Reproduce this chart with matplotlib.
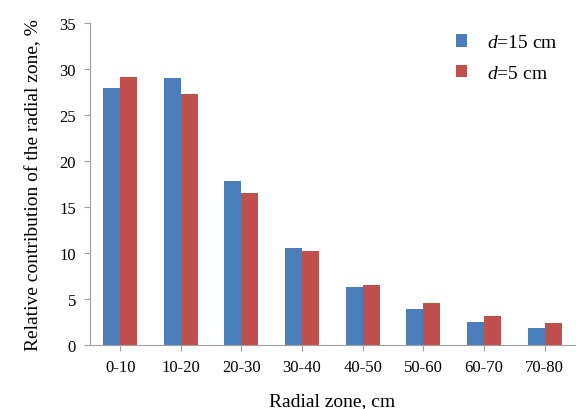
import numpy as np
import matplotlib
matplotlib.use('Agg')
import matplotlib.pyplot as plt

plt.rcParams['font.family'] = 'Liberation Serif'
plt.rcParams['mathtext.fontset'] = 'custom'
plt.rcParams['mathtext.it'] = 'Liberation Serif:italic'
plt.rcParams['mathtext.rm'] = 'Liberation Serif'

zones = ['0-10', '10-20', '20-30', '30-40', '40-50', '50-60', '60-70', '70-80']
d15 = [27.9, 29.05, 17.8, 10.5, 6.3, 3.9, 2.5, 1.8]
d5 = [29.2, 27.3, 16.5, 10.2, 6.55, 4.6, 3.2, 2.4]

fig = plt.figure(figsize=(5.76, 4.10), dpi=100)
ax = fig.add_axes([0.156, 0.156, 0.842, 0.785])

x = np.arange(len(zones))
w = 0.28
ax.bar(x - w/2, d15, w, color='#4a7ebb', label='$d$=15 cm')
ax.bar(x + w/2, d5, w, color='#c0504d', label='$d$=5 cm')

ax.set_xlim(-0.5, len(zones) - 0.5)
ax.set_ylim(0, 35)
ax.set_yticks(range(0, 36, 5))
ax.set_xticks(x)
ax.set_xticklabels(zones)

for s in ['top', 'right']:
    ax.spines[s].set_visible(False)
for s in ['left', 'bottom']:
    ax.spines[s].set_color('#a0a0a0')
ax.tick_params(colors='#a0a0a0', labelcolor='black', labelsize=12, length=4)
ax.tick_params(axis='y', pad=6)
ax.tick_params(axis='x', pad=6)

ax.set_xlabel('Radial zone, cm', fontsize=14, labelpad=12)
ax.set_ylabel('Relative contribution of the radial zone, %', fontsize=14, labelpad=12)

ax.legend(loc='upper right', bbox_to_anchor=(1.0, 1.02), frameon=False, fontsize=14,
          handlelength=0.6, handleheight=0.6, labelspacing=0.7, handletextpad=1.0)

fig.savefig('out.png', dpi=100)
